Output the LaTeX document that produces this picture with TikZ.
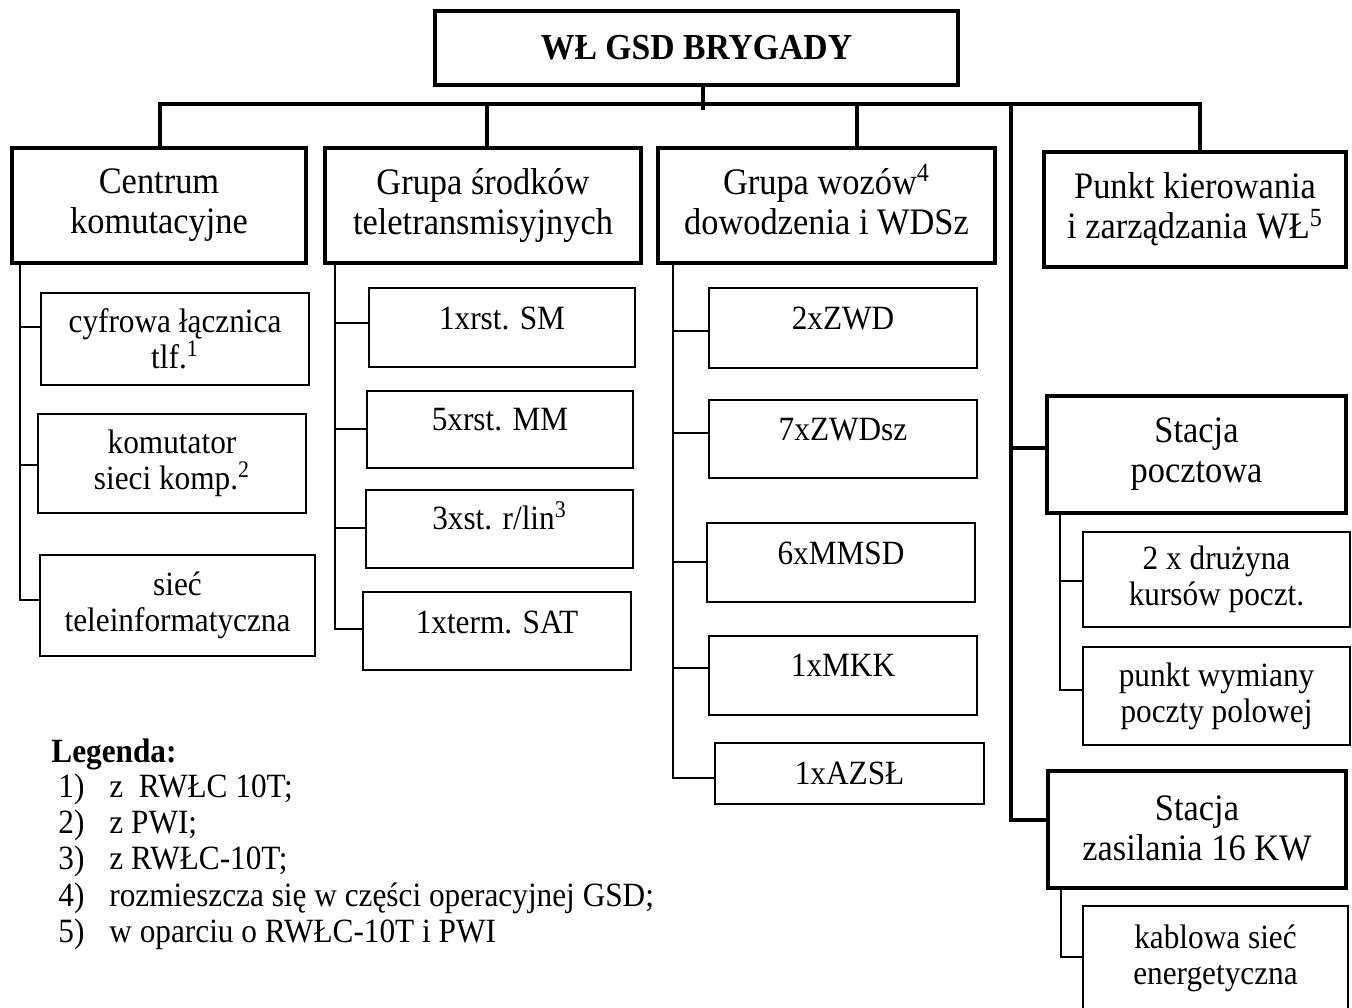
\documentclass[tikz,border=0pt]{standalone}
\usepackage{fontspec}
\setmainfont{Liberation Serif}[FakeStretch=0.92]
\newcommand\fTitle{\fontsize{18.3}{19}\selectfont\bfseries}
\newcommand\fTwo{\fontsize{18.7}{20}\selectfont}
\newcommand\fThree{\fontsize{17}{18}\selectfont}
\newcommand\fLeg{\fontsize{17}{18}\selectfont}
\newcommand\supx[1]{\smash{\textsuperscript{#1}}}
\begin{document}
\begin{tikzpicture}[x=0.5pt,y=-0.5pt,
  sz/.style 2 args={minimum width=#1*0.5pt, minimum height=#2*0.5pt},
  bigbox/.style={draw, line width=2.4pt, inner sep=0pt, align=center, font=\fTwo},
  smallbox/.style={draw, line width=1.3pt, inner sep=0pt, align=center, font=\fThree},
  every label/.style={font=\fThree, inner sep=0pt},
  bus/.style={line width=2.2pt},
  link/.style={line width=1.3pt},
  legtext/.style={anchor=base west, inner sep=0pt, font=\fLeg}]
\clip (0,0) rectangle (1352,1007);
\fill[white] (0,0) rectangle (1352,1007);

% top
\node[bigbox, sz={523}{74}, font=\fTitle] (top) at (696.5,48) {WŁ GSD BRYGADY};

% level 2
\node[bigbox, sz={294}{115}] (cent) at (159,205.5) {Centrum\\komutacyjne};
\node[bigbox, sz={316}{115}] (gsr) at (483,205.5) {Grupa środków\\teletransmisyjnych};
\node[bigbox, sz={337}{115}, text depth=4.2pt] (gwd) at (826.5,205.5) {Grupa wozów\supx{4}\\dowodzenia i WDSz};
\node[bigbox, sz={302}{115}] (pkz) at (1195,209.5) {Punkt kierowania\\i zarządzania WŁ\supx{5}};

% bus
\coordinate (bL) at (160,104);
\coordinate (bR) at (1200,104);
\coordinate (bT) at (703,104);
\coordinate (bT2) at (703,110);
\coordinate (bG) at (487,104);
\coordinate (bW) at (857,104);
\coordinate (bS) at (1011,104);
\draw[bus] (bL |- cent.north) -- (bL) -- (bR) -- (bR |- pkz.north);
\draw[bus] (bT |- top.south) -- (bT2);
\draw[bus] (bG) -- (bG |- gsr.north);
\draw[bus] (bW) -- (bW |- gwd.north);

% right column
\node[bigbox, sz={299}{117}] (sp) at (1196.5,454.5) {Stacja\\pocztowa};
\node[bigbox, sz={298}{117}, text depth=1.5pt] (stz) at (1197,829.5) {Stacja\\zasilania 16 KW};
\coordinate (rP) at (1011,448);
\coordinate (rZ) at (1011,820);
\draw[bus] (bS) -- (rZ) -- (rZ -| stz.west);
\draw[bus] (rP) -- (rP -| sp.west);

% Centrum children
\node[smallbox, sz={268}{92}] (c1) at (175,339) {cyfrowa łącznica\\tlf.\supx{1}};
\node[smallbox, sz={268}{99}] (c2) at (172,463.5) {komutator\\sieci komp.\supx{2}};
\node[smallbox, sz={275}{101}] (c3) at (177.5,605.5) {sieć\\teleinformatyczna};
\coordinate (cv1) at (20,327);
\coordinate (cv2) at (20,465);
\coordinate (cv3) at (20,600);
\draw[link] (cent.south -| cv1) -- (cv3) -- (cv3 -| c3.west);
\draw[link] (cv1) -- (cv1 -| c1.west);
\draw[link] (cv2) -- (cv2 -| c2.west);

% Grupa srodkow children
\node[smallbox, sz={266}{79}, label={[yshift=4.75pt]center:1xrst. SM}] (s1) at (502,327.5) {};
\node[smallbox, sz={266}{77}, label={[yshift=4.75pt]center:5xrst. MM}] (s2) at (500,429.5) {};
\node[smallbox, sz={267}{78}, label={[yshift=5.5pt]center:3xst. r/lin\supx{3}}] (s3) at (499.5,529) {};
\node[smallbox, sz={268}{78}, label={[yshift=4.5pt]center:1xterm. SAT}] (s4) at (497,631) {};
\coordinate (gv1) at (335,323);
\coordinate (gv2) at (335,429);
\coordinate (gv3) at (335,528);
\coordinate (gv4) at (335,629);
\draw[link] (gsr.south -| gv1) -- (gv4) -- (gv4 -| s4.west);
\draw[link] (gv1) -- (gv1 -| s1.west);
\draw[link] (gv2) -- (gv2 -| s2.west);
\draw[link] (gv3) -- (gv3 -| s3.west);

% Grupa wozow children
\node[smallbox, sz={268}{80}, label={[yshift=5pt]center:2xZWD}] (w1) at (843,328) {};
\node[smallbox, sz={268}{78}, label={[yshift=4.5pt]center:7xZWDsz}] (w2) at (843,439) {};
\node[smallbox, sz={268}{79}, label={[yshift=4.75pt]center:6xMMSD}] (w3) at (841,562.5) {};
\node[smallbox, sz={268}{79}, label={[yshift=5.25pt]center:1xMKK}] (w4) at (843,675.5) {};
\node[smallbox, sz={269}{61}] (w5) at (849.5,773.5) {1xAZSŁ};
\coordinate (wv1) at (673,331);
\coordinate (wv2) at (673,433);
\coordinate (wv3) at (673,562);
\coordinate (wv4) at (673,668);
\coordinate (wv5) at (673,778);
\draw[link] (gwd.south -| wv1) -- (wv5) -- (wv5 -| w5.west);
\draw[link] (wv1) -- (wv1 -| w1.west);
\draw[link] (wv2) -- (wv2 -| w2.west);
\draw[link] (wv3) -- (wv3 -| w3.west);
\draw[link] (wv4) -- (wv4 -| w4.west);

% Stacja pocztowa children
\node[smallbox, sz={267}{95}] (p1) at (1216.5,579.5) {2 x drużyna\\kursów poczt.};
\node[smallbox, sz={267}{98}] (p2) at (1216.5,696) {punkt wymiany\\poczty polowej};
\coordinate (pv1) at (1060,581);
\coordinate (pv2) at (1060,690);
\draw[link] (sp.south -| pv1) -- (pv2) -- (pv2 -| p2.west);
\draw[link] (pv1) -- (pv1 -| p1.west);

% Stacja zasilania child
\node[smallbox, sz={265}{104}] (k1) at (1215.5,958) {kablowa sieć\\energetyczna};
\coordinate (kv1) at (1061,957);
\draw[link] (stz.south -| kv1) -- (kv1) -- (kv1 -| k1.west);

% legend
\node[legtext, font=\fLeg\bfseries] (leg) at (51,762) {Legenda:};
\node[legtext] (n1) at (58,797) {1)};
\node[legtext] (t1) at (109,797) {z\ \ RWŁC 10T;};
\node[legtext] (n2) at (58,833) {2)};
\node[legtext] (t2) at (109,833) {z PWI;};
\node[legtext] (n3) at (58,869) {3)};
\node[legtext] (t3) at (109,869) {z RWŁC-10T;};
\node[legtext] (n4) at (58,906) {4)};
\node[legtext] (t4) at (109,906) {rozmieszcza się w części operacyjnej GSD;};
\node[legtext] (n5) at (58,942) {5)};
\node[legtext] (t5) at (109,942) {w oparciu o RWŁC-10T i PWI};
\end{tikzpicture}
\end{document}
